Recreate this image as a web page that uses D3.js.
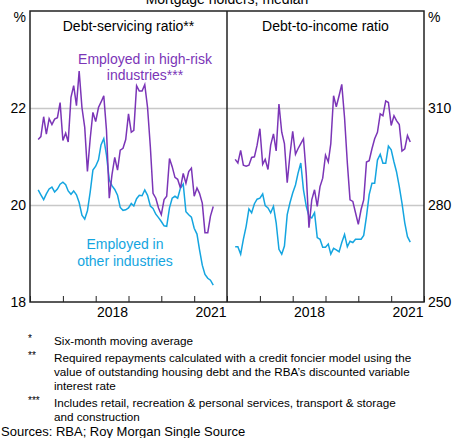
<!DOCTYPE html>
<html>
<head>
<meta charset="utf-8">
<script src="https://cdn.jsdelivr.net/npm/d3@7"></script>
<style>
  body { margin: 0; background: #fff; }
  svg { display: block; font-family: "Liberation Sans", Arial, sans-serif; }
  .axis path, .axis line { stroke: #222; }
  .grid line { stroke: #c8c8c8; stroke-width: 1.3px; }
  .grid path { display: none; }
</style>
</head>
<body>
<svg id="chart" width="458" height="438"></svg>
<script>
// monthly, Apr 2016 to Aug 2021
var startMonth = new Date(2016, 3, 1);

var dsrHighRisk = [21.35, 21.41, 21.82, 21.46, 21.78, 21.66, 21.77, 21.80, 22.11, 21.33,
  21.48, 21.30, 22.22, 22.46, 22.05, 22.76, 22.01, 21.60, 20.69, 21.37,
  21.91, 21.72, 22.01, 22.12, 22.25, 21.54, 20.14, 20.62, 20.98, 20.72,
  21.13, 21.17, 21.35, 21.88, 21.50, 21.54, 22.46, 22.35, 22.35, 22.48,
  22.01, 21.20, 20.24, 20.14, 19.94, 19.80, 20.11, 20.18, 20.96, 20.79,
  20.57, 20.53, 20.35, 20.65, 20.45, 20.69, 20.76, 20.18, 20.35, 20.24,
  20.04, 19.43, 19.43, 19.77, 19.97];
var dsrOther = [20.31, 20.21, 20.11, 20.23, 20.33, 20.37, 20.27, 20.33, 20.43, 20.47,
  20.42, 20.29, 20.22, 20.29, 20.21, 20.05, 19.79, 19.71, 19.88, 20.27,
  20.72, 20.80, 20.93, 21.24, 21.37, 21.03, 20.52, 20.40, 20.32, 20.20,
  19.95, 19.89, 19.90, 19.94, 20.03, 19.98, 20.13, 20.20, 20.19, 20.31,
  20.20, 19.98, 19.93, 19.81, 19.74, 19.66, 19.57, 19.56, 19.94, 20.14,
  20.18, 20.14, 20.35, 20.43, 19.86, 19.80, 19.75, 19.52, 19.40, 19.08,
  18.76, 18.57, 18.49, 18.45, 18.35];
var dtiHighRisk = [294.1, 293.0, 296.9, 292.3, 292.0, 292.3, 294.7, 294.9, 298.5, 303.6,
  292.6, 294.1, 291.0, 298.5, 302.0, 296.7, 311.2, 302.5, 299.0, 286.9,
  295.4, 302.8, 295.7, 297.4, 299.0, 300.5, 289.5, 273.0, 281.6, 284.7,
  279.6, 285.7, 288.3, 295.4, 293.3, 299.0, 313.8, 310.4, 313.8, 317.3,
  307.0, 293.0, 281.6, 281.1, 277.6, 274.0, 278.6, 281.6, 293.3, 293.7,
  297.4, 300.5, 302.5, 308.2, 307.6, 312.2, 311.7, 304.6, 307.6, 306.1,
  304.9, 296.7, 297.4, 301.5, 299.5];
var dtiOther = [267.1, 267.1, 264.8, 269.4, 273.4, 278.8, 277.6, 280.4, 281.8, 282.1,
  283.4, 279.8, 279.1, 277.6, 279.6, 274.5, 266.3, 264.8, 267.3, 277.0,
  280.6, 283.7, 286.2, 289.8, 293.0, 284.7, 279.6, 276.5, 276.0, 277.6,
  269.9, 269.4, 266.9, 266.9, 267.9, 264.8, 266.6, 266.1, 265.5, 268.4,
  270.9, 267.1, 268.8, 268.4, 269.4, 269.4, 269.4, 270.6, 276.5, 283.2,
  286.7, 286.7, 293.9, 295.7, 292.9, 292.9, 298.2, 297.1, 293.3, 290.3,
  285.7, 280.6, 274.5, 270.2, 268.5];

var leftTicks = [18, 20, 22];
var rightTicks = [250, 280, 310];
var yearLabels = [2018, 2021];

var purple = "#7b35b7";
var blue = "#14a5e0";

var svg = d3.select("#chart");
var plotTop = 11, plotBottom = 302;
var panels = [
  {x0: 30, x1: 227, title: "Debt-servicing ratio**", domain: [18, 24], hr: dsrHighRisk, ot: dsrOther, ticks: leftTicks},
  {x0: 227, x1: 424, title: "Debt-to-income ratio", domain: [250, 340], hr: dtiHighRisk, ot: dtiOther, ticks: rightTicks}
];

function monthDate(i) { return d3.timeMonth.offset(startMonth, i); }

panels.forEach(function(p, k) {
  p.x = d3.scaleTime().domain([new Date(2016, 0, 1), new Date(2022, 0, 1)]).range([p.x0, p.x1]);
  p.y = d3.scaleLinear().domain(p.domain).range([plotBottom, plotTop]);

  // gridlines
  svg.append("g").attr("class", "grid")
    .attr("transform", "translate(" + p.x0 + ",0)")
    .call(d3.axisRight(p.y).tickValues(p.ticks.slice(1)).tickSize(p.x1 - p.x0).tickFormat(""));

  var line = d3.line()
    .x(function(d, i) { return p.x(monthDate(i)); })
    .y(function(d) { return p.y(d); });

  svg.append("path").datum(p.ot).attr("d", line)
    .attr("fill", "none").attr("stroke", blue).attr("stroke-width", 1.5);
  svg.append("path").datum(p.hr).attr("d", line)
    .attr("fill", "none").attr("stroke", purple).attr("stroke-width", 1.5);

  // inward year ticks
  svg.append("g").attr("class", "axis")
    .attr("transform", "translate(0," + plotBottom + ")")
    .call(d3.axisBottom(p.x).ticks(d3.timeYear.every(1)).tickSizeInner(-6).tickSizeOuter(0).tickFormat(""))
    .call(function(g) { g.select(".domain").remove(); });

  // year labels in the middle of each year
  svg.append("g")
    .attr("transform", "translate(0," + plotBottom + ")")
    .call(d3.axisBottom(p.x).tickValues(yearLabels.map(function(y) { return new Date(y, 6, 1); }))
      .tickSize(0).tickPadding(5).tickFormat(function(d) { return d.getFullYear(); }))
    .call(function(g) {
      g.select(".domain").remove();
      g.selectAll("text").attr("font-size", 14).attr("font-family", "Liberation Sans, Arial, sans-serif").attr("fill", "#000");
    });

  // y tick labels
  var yAxis = k == 0 ? d3.axisLeft(p.y) : d3.axisRight(p.y);
  svg.append("g")
    .attr("transform", "translate(" + (k == 0 ? 26 : 428) + ",0)")
    .call(yAxis.tickValues(p.ticks).tickSize(0).tickPadding(0).tickFormat(d3.format("d")))
    .call(function(g) {
      g.select(".domain").remove();
      g.selectAll("text").attr("font-size", 14).attr("font-family", "Liberation Sans, Arial, sans-serif").attr("fill", "#000");
    });

  svg.append("text").attr("x", (p.x0 + p.x1) / 2).attr("y", 31)
    .attr("text-anchor", "middle").attr("font-size", 14).text(p.title);
});

// frame
svg.append("rect").attr("x", 30).attr("y", plotTop).attr("width", 394).attr("height", plotBottom - plotTop)
  .attr("fill", "none").attr("stroke", "#222").attr("stroke-width", 1.5);
svg.append("line").attr("x1", 227).attr("x2", 227).attr("y1", plotTop).attr("y2", plotBottom)
  .attr("stroke", "#222").attr("stroke-width", 1.5);

svg.append("text").attr("x", 227).attr("y", 4).attr("text-anchor", "middle")
  .attr("font-size", 14).text("Mortgage holders, median");
svg.append("text").attr("x", 26).attr("y", 22).attr("text-anchor", "end").attr("font-size", 14).text("%");
svg.append("text").attr("x", 428).attr("y", 22).attr("font-size", 14).text("%");

// series labels
var hrLabel = svg.append("text").attr("text-anchor", "middle").attr("font-size", 14).attr("fill", purple);
hrLabel.append("tspan").attr("x", 145).attr("y", 64).text("Employed in high-risk");
hrLabel.append("tspan").attr("x", 145).attr("y", 80).text("industries***");
var otLabel = svg.append("text").attr("text-anchor", "middle").attr("font-size", 14).attr("fill", blue);
otLabel.append("tspan").attr("x", 125).attr("y", 249).text("Employed in");
otLabel.append("tspan").attr("x", 125).attr("y", 266).text("other industries");

// footnotes
var notes = [
  {mark: "*", lines: ["Six-month moving average"]},
  {mark: "**", lines: ["Required repayments calculated with a credit foncier model using the",
    "value of outstanding housing debt and the RBA\u2019s discounted variable", "interest rate"]},
  {mark: "***", lines: ["Includes retail, recreation & personal services, transport & storage", "and construction"]}
];
var ny = 345;
notes.forEach(function(n) {
  svg.append("text").attr("x", 28).attr("y", ny - 3).attr("font-size", 10).text(n.mark);
  n.lines.forEach(function(l) {
    svg.append("text").attr("x", 54).attr("y", ny).attr("font-size", 11.7).text(l);
    ny += 14.3;
  });
  ny += 2.2;
});
svg.append("text").attr("x", 1).attr("y", 436).attr("font-size", 13).text("Sources: RBA; Roy Morgan Single Source");
</script>
</body>
</html>
